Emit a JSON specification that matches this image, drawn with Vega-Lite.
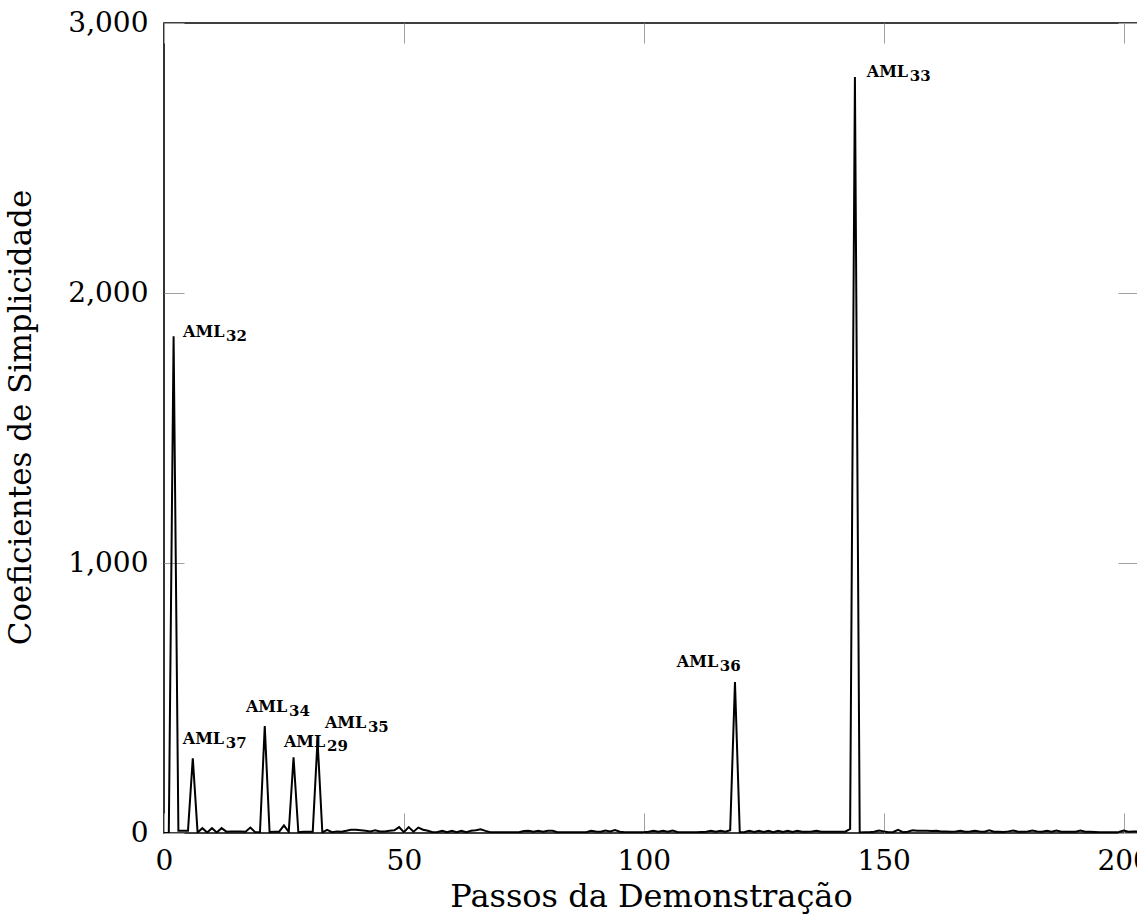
{
  "$schema": "https://vega.github.io/schema/vega-lite/v6.json",
  "autosize": {"type": "none"},
  "padding": {"left": 164, "top": 23, "right": 0, "bottom": 86},
  "width": 974,
  "height": 810,
  "background": "white",
  "config": {
    "font": "DejaVu Serif",
    "view": {"stroke": "black", "strokeWidth": 1.6},
    "axis": {
      "grid": false,
      "domain": false,
      "tickColor": "#a0a0a0",
      "tickWidth": 1,
      "tickSize": -20
    }
  },
  "datasets": {
    "series": [
      {"step":0,"value":0},{"step":1,"value":0},{"step":2,"value":1840},{"step":3,"value":8},{"step":4,"value":8},
      {"step":5,"value":8},{"step":6,"value":277},{"step":7,"value":2},{"step":8,"value":18},{"step":9,"value":2},
      {"step":10,"value":18},{"step":11,"value":2},{"step":12,"value":18},{"step":13,"value":5},{"step":14,"value":6},
      {"step":15,"value":6},{"step":16,"value":6},{"step":17,"value":5},{"step":18,"value":20},{"step":19,"value":3},
      {"step":20,"value":3},{"step":21,"value":396},{"step":22,"value":4},{"step":23,"value":5},{"step":24,"value":5},
      {"step":25,"value":28},{"step":26,"value":4},{"step":27,"value":280},{"step":28,"value":3},{"step":29,"value":5},
      {"step":30,"value":5},{"step":31,"value":5},{"step":32,"value":344},{"step":33,"value":2},{"step":34,"value":12},
      {"step":35,"value":3},{"step":36,"value":6},{"step":37,"value":5},{"step":38,"value":8},{"step":39,"value":12},
      {"step":40,"value":12},{"step":41,"value":10},{"step":42,"value":8},{"step":43,"value":6},{"step":44,"value":10},
      {"step":45,"value":6},{"step":46,"value":6},{"step":47,"value":8},{"step":48,"value":10},{"step":49,"value":22},
      {"step":50,"value":3},{"step":51,"value":22},{"step":52,"value":5},{"step":53,"value":20},{"step":54,"value":12},
      {"step":55,"value":8},{"step":56,"value":3},{"step":57,"value":4},{"step":58,"value":8},{"step":59,"value":3},
      {"step":60,"value":8},{"step":61,"value":3},{"step":62,"value":8},{"step":63,"value":3},{"step":64,"value":8},
      {"step":65,"value":10},{"step":66,"value":14},{"step":67,"value":8},{"step":68,"value":3},{"step":69,"value":3},
      {"step":70,"value":3},{"step":71,"value":3},{"step":72,"value":3},{"step":73,"value":3},{"step":74,"value":3},
      {"step":75,"value":7},{"step":76,"value":8},{"step":77,"value":5},{"step":78,"value":8},{"step":79,"value":5},
      {"step":80,"value":8},{"step":81,"value":8},{"step":82,"value":3},{"step":83,"value":3},{"step":84,"value":3},
      {"step":85,"value":3},{"step":86,"value":3},{"step":87,"value":3},{"step":88,"value":3},{"step":89,"value":8},
      {"step":90,"value":6},{"step":91,"value":5},{"step":92,"value":9},{"step":93,"value":6},{"step":94,"value":11},
      {"step":95,"value":5},{"step":96,"value":3},{"step":97,"value":3},{"step":98,"value":3},{"step":99,"value":3},
      {"step":100,"value":3},{"step":101,"value":5},{"step":102,"value":8},{"step":103,"value":5},{"step":104,"value":8},
      {"step":105,"value":5},{"step":106,"value":9},{"step":107,"value":4},{"step":108,"value":3},{"step":109,"value":3},
      {"step":110,"value":3},{"step":111,"value":3},{"step":112,"value":4},{"step":113,"value":5},{"step":114,"value":8},
      {"step":115,"value":5},{"step":116,"value":8},{"step":117,"value":5},{"step":118,"value":10},{"step":119,"value":559},
      {"step":120,"value":3},{"step":121,"value":4},{"step":122,"value":8},{"step":123,"value":4},{"step":124,"value":8},
      {"step":125,"value":4},{"step":126,"value":8},{"step":127,"value":3},{"step":128,"value":8},{"step":129,"value":4},
      {"step":130,"value":8},{"step":131,"value":4},{"step":132,"value":8},{"step":133,"value":5},{"step":134,"value":5},
      {"step":135,"value":6},{"step":136,"value":8},{"step":137,"value":5},{"step":138,"value":5},{"step":139,"value":5},
      {"step":140,"value":5},{"step":141,"value":5},{"step":142,"value":5},{"step":143,"value":15},{"step":144,"value":2800},
      {"step":145,"value":2},{"step":146,"value":3},{"step":147,"value":3},{"step":148,"value":5},{"step":149,"value":9},
      {"step":150,"value":6},{"step":151,"value":3},{"step":152,"value":4},{"step":153,"value":12},{"step":154,"value":3},
      {"step":155,"value":5},{"step":156,"value":10},{"step":157,"value":8},{"step":158,"value":8},{"step":159,"value":8},
      {"step":160,"value":7},{"step":161,"value":8},{"step":162,"value":6},{"step":163,"value":6},{"step":164,"value":5},
      {"step":165,"value":6},{"step":166,"value":8},{"step":167,"value":5},{"step":168,"value":6},{"step":169,"value":8},
      {"step":170,"value":6},{"step":171,"value":5},{"step":172,"value":10},{"step":173,"value":5},{"step":174,"value":5},
      {"step":175,"value":4},{"step":176,"value":6},{"step":177,"value":9},{"step":178,"value":5},{"step":179,"value":5},
      {"step":180,"value":6},{"step":181,"value":9},{"step":182,"value":6},{"step":183,"value":5},{"step":184,"value":8},
      {"step":185,"value":5},{"step":186,"value":9},{"step":187,"value":5},{"step":188,"value":5},{"step":189,"value":5},
      {"step":190,"value":5},{"step":191,"value":9},{"step":192,"value":5},{"step":193,"value":5},{"step":194,"value":4},
      {"step":195,"value":3},{"step":196,"value":3},{"step":197,"value":3},{"step":198,"value":3},{"step":199,"value":4},
      {"step":200,"value":9},{"step":201,"value":5},{"step":202,"value":6},{"step":203,"value":5}
    ],
    "notes": [
      {"label":"AML","sub":"32","x":3.96,"y":1837},
      {"label":"AML","sub":"33","x":146.46,"y":2800},
      {"label":"AML","sub":"36","x":106.88,"y":615},
      {"label":"AML","sub":"37","x":3.9,"y":328},
      {"label":"AML","sub":"34","x":17.08,"y":449},
      {"label":"AML","sub":"35","x":33.54,"y":390},
      {"label":"AML","sub":"29","x":25.0,"y":320}
    ]
  },
  "resolve": {"axis": {"x": "independent", "y": "independent"}},
  "layer": [
    {
      "data": {"name": "series"},
      "mark": {"type": "line", "color": "black", "strokeWidth": 2, "strokeJoin": "miter", "clip": true},
      "encoding": {
        "x": {"field": "step", "type": "quantitative",
              "scale": {"domain": [0, 203], "nice": false, "zero": false},
              "axis": {"orient": "bottom", "values": [0, 50, 100, 150, 200],
                       "labelExpr": "format(datum.value, 'd')",
                       "labelFont": "DejaVu Serif", "labelFontSize": 28, "labelColor": "black",
                       "labelPadding": 34, "labelBaseline": "top", "labelFlush": false, "labelOverlap": false,
                       "title": "Passos da Demonstração", "titlePadding": 6,
                       "titleFont": "DejaVu Serif", "titleFontSize": 32, "titleFontWeight": "normal", "titleColor": "black"}},
        "y": {"field": "value", "type": "quantitative",
              "scale": {"domain": [0, 3000], "nice": false},
              "axis": {"orient": "left", "values": [0, 1000, 2000, 3000],
                       "labelExpr": "format(datum.value, ',')",
                       "labelFont": "DejaVu Serif", "labelFontSize": 28, "labelColor": "black",
                       "labelPadding": 36, "labelBaseline": "middle", "labelFlush": false, "labelOverlap": false,
                       "title": "Coeficientes de Simplicidade",
                       "titleFont": "DejaVu Serif", "titleFontSize": 31, "titleFontWeight": "normal", "titleColor": "black",
                       "titleAngle": -90, "titleX": -134, "titleY": 394,
                       "titleAlign": "center", "titleBaseline": "alphabetic"}}
      }
    },
    {
      "data": {"name": "notes"},
      "mark": {"type": "text", "align": "left", "baseline": "alphabetic", "font": "DejaVu Serif", "fontSize": 16, "fontWeight": "bold", "color": "black"},
      "encoding": {
        "x": {"field": "x", "type": "quantitative",
              "axis": {"orient": "top", "values": [0, 50, 100, 150, 200], "labels": false, "title": null}},
        "y": {"field": "y", "type": "quantitative",
              "axis": {"orient": "right", "values": [0, 1000, 2000, 3000], "labels": false, "title": null}},
        "text": {"field": "label"}
      }
    },
    {
      "data": {"name": "notes"},
      "mark": {"type": "text", "align": "left", "baseline": "alphabetic", "font": "DejaVu Serif", "fontSize": 15, "fontWeight": "bold", "color": "black", "dx": 43, "dy": 4},
      "encoding": {
        "x": {"field": "x", "type": "quantitative", "axis": null},
        "y": {"field": "y", "type": "quantitative", "axis": null},
        "text": {"field": "sub"}
      }
    }
  ]
}
